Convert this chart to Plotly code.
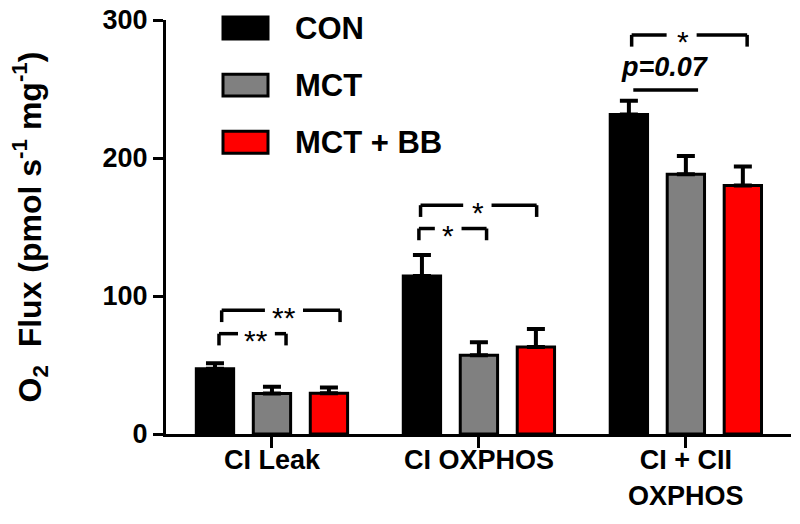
import plotly.graph_objects as go

CATEGORIES = ["CI Leak", "CI OXPHOS", "CI + CII<br>OXPHOS"]
GROUPS = ["CON", "MCT", "MCT + BB"]
CON = [47.3, 114.5, 231.6]
CON_SE = [3.9, 15.3, 9.9]
MCT = [29.4, 57.1, 188.2]
MCT_SE = [4.9, 9.3, 13.2]
MCT_BB = [29.5, 63.1, 180.0]
MCT_BB_SE = [4.2, 12.9, 13.9]
Y_TICKS = [0, 100, 200, 300]

COLORS = ["#000000", "#808080", "#ff0000"]
FONT = "Arial, Liberation Sans, sans-serif"

# significance brackets: (x0, x1, y, label, label_x, gap_x0, gap_x1)
BRACKETS = [
    (-0.243, 0.329, 89.6, "**", 0.058, -0.034, 0.150),
    (-0.256, 0.068, 72.7, "**", -0.077, -0.164, 0.014),
    (0.718, 1.279, 165.8, "*", 0.994, 0.924, 1.061),
    (0.710, 1.037, 148.9, "*", 0.852, 0.787, 0.916),
    (1.738, 2.296, 289.2, "*", 1.987, 1.907, 2.052),
]
LEG = 8.5

fig = go.Figure()
for name, vals, se, col in zip(
    GROUPS, [CON, MCT, MCT_BB], [CON_SE, MCT_SE, MCT_BB_SE], COLORS
):
    fig.add_trace(
        go.Bar(
            x=CATEGORIES,
            y=vals,
            name=name,
            marker=dict(color=col, line=dict(color="black", width=3)),
            error_y=dict(
                type="data",
                array=se,
                arrayminus=[0] * len(se),
                symmetric=False,
                color="black",
                thickness=4,
                width=9,
            ),
            showlegend=False,
        )
    )

line = dict(color="black", width=3.5)
for x0, x1, y, label, lx, g0, g1 in BRACKETS:
    fig.add_shape(type="line", x0=x0, x1=x0, y0=y - LEG, y1=y, line=line)
    fig.add_shape(type="line", x0=x1, x1=x1, y0=y - LEG, y1=y, line=line)
    fig.add_shape(type="line", x0=x0, x1=g0, y0=y, y1=y, line=line)
    fig.add_shape(type="line", x0=g1, x1=x1, y0=y, y1=y, line=line)
    fig.add_annotation(
        x=lx, y=y, text=label, showarrow=False, yshift=-7,
        font=dict(family=FONT, size=30, color="black"),
    )

# p=0.07 trend line
fig.add_shape(type="line", x0=1.746, x1=2.059, y0=249.3, y1=249.3, line=line)
fig.add_annotation(
    x=1.899, y=266.2, text="<b><i>p=0.07</i></b>", showarrow=False,
    font=dict(family=FONT, size=27, color="black"),
)

# custom legend with wide swatches
for i, (name, col) in enumerate(zip(GROUPS, COLORS)):
    ytop = 1.007 - i * 0.1378
    fig.add_shape(
        type="rect", xref="paper", yref="paper",
        x0=0.0912, x1=0.1632, y0=ytop - 0.053, y1=ytop,
        fillcolor=col, line=dict(color="black", width=3),
    )
    fig.add_annotation(
        xref="paper", yref="paper", x=0.2032, y=ytop - 0.0265,
        xanchor="left", yanchor="middle", text="<b>%s</b>" % name,
        showarrow=False, font=dict(family=FONT, size=31, color="black"),
    )

fig.update_layout(
    width=800,
    height=524,
    margin=dict(l=166, r=9, t=20, b=90),
    paper_bgcolor="white",
    plot_bgcolor="white",
    barmode="group",
    bargap=0.174,
    bargroupgap=0.345,
    font=dict(family=FONT, color="black"),
)
fig.update_xaxes(
    automargin=False,
    showline=True, linecolor="black", linewidth=3,
    ticks="outside", ticklen=11, tickwidth=3, tickcolor="black",
    tickfont=dict(family=FONT, size=27, color="black"),
    ticktext=["<b>%s</b>" % c for c in CATEGORIES],
    tickvals=CATEGORIES,
    ticklabelstandoff=-11,
    ticklabeloverflow="allow",
    range=[-0.512, 2.508],
    showgrid=False,
)
fig.update_yaxes(
    automargin=False,
    range=[0, 300],
    tickvals=Y_TICKS,
    ticktext=["<b>%d</b>" % v for v in Y_TICKS],
    showline=True, linecolor="black", linewidth=3,
    ticks="outside", ticklen=10, tickwidth=3, tickcolor="black",
    tickfont=dict(family=FONT, size=27, color="black"),
    ticklabeloverflow="allow",
    showgrid=False, zeroline=False,
    title=dict(
        text="<b>O<sub>2</sub>  Flux (pmol s<sup>-1</sup> mg<sup>-1</sup>)</b>",
        font=dict(family=FONT, size=32, color="black"),
        standoff=52,
    ),
)

# drop the browser's default 8px body margin so the figure sits at 0,0
fig.write_html(
    "out.html",
    config={"displayModeBar": False},
    post_script="document.body.style.margin='0';",
)
